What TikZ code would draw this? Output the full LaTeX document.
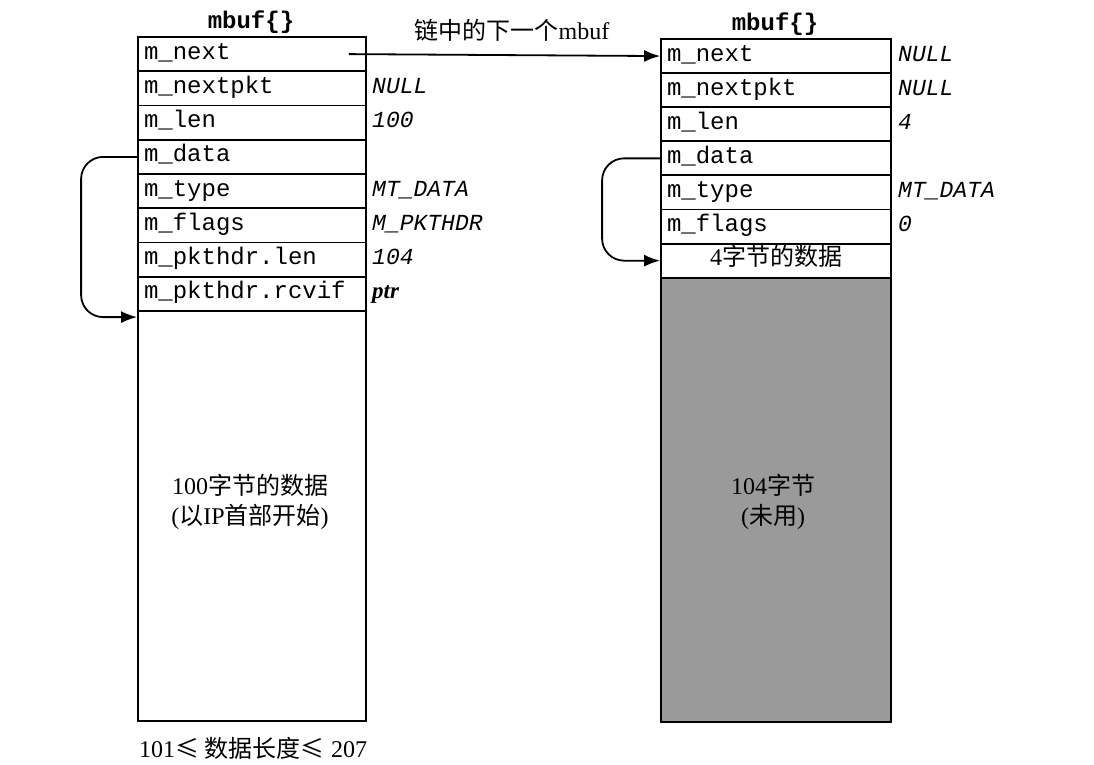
\documentclass[tikz,border=0pt]{standalone}
\usepackage{fontspec}
\setmainfont{Liberation Serif}
\setmonofont{Liberation Mono}
\newfontfamily\cjk{Noto Sans CJK SC}
\usetikzlibrary{arrows.meta,positioning}
\definecolor{unused}{HTML}{9A9A9A}

\begin{document}
\begin{tikzpicture}[
  x=1pt, y=-1pt,
  field/.style={draw, line width=1.8pt, minimum height=34.2pt, text width=216pt, inner xsep=6pt, inner ysep=0pt, text height=15pt, text depth=5pt, align=left, font=\fontsize{24}{26}\selectfont\ttfamily},
  rfield/.style={field, text width=218pt},
  value/.style={anchor=west, inner sep=0pt, text height=15pt, text depth=5pt, font=\fontsize{23}{26}\selectfont\ttfamily\itshape},
  title/.style={font=\fontsize{24}{26}\selectfont\ttfamily\bfseries},
  note/.style={align=center, font=\fontsize{24}{30}\selectfont},
  ptr/.style={-{Latex[length=16pt,width=12pt]}, line width=1.8pt, rounded corners=22pt}
]
\useasboundingbox (0,0) rectangle (1094,764);

% first mbuf
\node[title] (ltitle) at (251,22) {mbuf\{\}};
\node[field] (lnext) at (252,54.1) {m\_next};
\node[field] (lnextpkt) at (252,88.4) {m\_nextpkt};
\node[field] (llen) at (252,122.6) {m\_len};
\node[field] (ldatap) at (252,156.9) {m\_data};
\node[field] (ltype) at (252,191.1) {m\_type};
\node[field] (lflags) at (252,225.4) {m\_flags};
\node[field] (lhdrlen) at (252,259.6) {m\_pkthdr.len};
\node[field] (lrcvif) at (252,293.9) {m\_pkthdr.rcvif};
\node[draw, line width=1.8pt, minimum width=228pt, minimum height=410pt] (ldata) at (252,516) {};
\node[note] (ldatatext) at (250,502) {100{\cjk 字节的数据}\\({\cjk 以}IP{\cjk 首部开始})};

\node[value] (vlnextpkt) at (372,88.4) {NULL};
\node[value] (vllen) at (372,122.6) {100};
\node[value] (vltype) at (372,191.1) {MT\_DATA};
\node[value] (vlflags) at (372,225.4) {M\_PKTHDR};
\node[value] (vlhdrlen) at (372,259.6) {104};
\node[value, font=\fontsize{23}{26}\selectfont\rmfamily\bfseries\itshape] (vlrcvif) at (372,293.9) {ptr};

% second mbuf
\node[title] (rtitle) at (775,24) {mbuf\{\}};
\node[rfield] (rnext) at (776,56.05) {m\_next};
\node[rfield] (rnextpkt) at (776,90.15) {m\_nextpkt};
\node[rfield] (rlen) at (776,124.25) {m\_len};
\node[rfield] (rdatap) at (776,158.35) {m\_data};
\node[rfield] (rtype) at (776,192.45) {m\_type};
\node[rfield] (rflags) at (776,226.55) {m\_flags};
\node[rfield, align=center, font=\fontsize{24}{26}\selectfont] (rfour) at (776,260.65) {4{\cjk 字节的数据}};
\node[draw, line width=1.8pt, fill=unused, minimum width=230pt, minimum height=444pt] (rdata) at (776,500) {};
\node[note] (rdatatext) at (773,502) {104{\cjk 字节}\\({\cjk 未用})};

\node[value] (vrnext) at (898,56.05) {NULL};
\node[value] (vrnextpkt) at (898,90.15) {NULL};
\node[value] (vrlen) at (898,124.25) {4};
\node[value] (vrtype) at (898,192.45) {MT\_DATA};
\node[value] (vrflags) at (898,226.55) {0};

% links
\node[note] (chainlbl) at (512,30) {{\cjk 链中的下一个}mbuf};
\draw[ptr] ([xshift=-18pt]lnext.east) -- (rnext.west);
\draw[ptr] (ldatap.west) -- ++(-56,0) |- ([yshift=-7pt]ldata.north west);
\draw[ptr] (rdatap.west) -- ++(-58,0) |- (rfour.west);

\node[note] (lenlbl) at (253,748) {101{\cjk ≤} {\cjk 数据长度}{\cjk ≤} 207};
\end{tikzpicture}
\end{document}
